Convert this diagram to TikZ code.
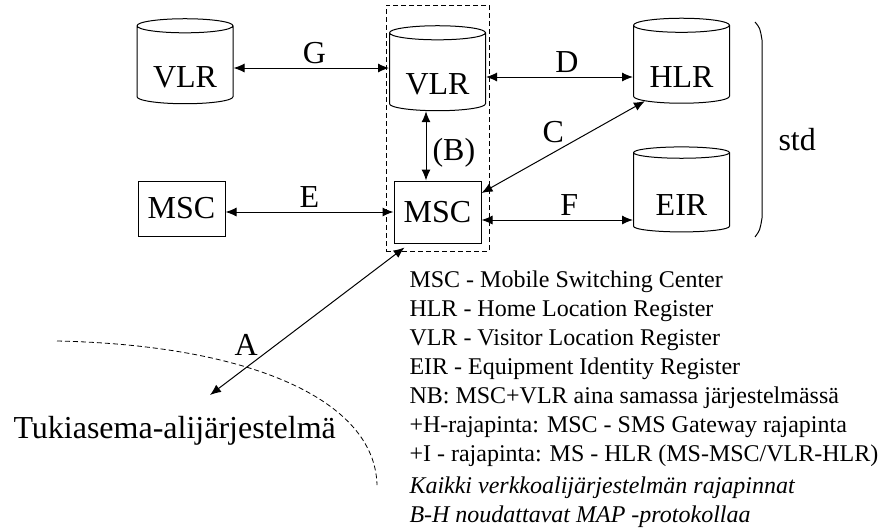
\documentclass[tikz,border=0pt]{standalone}
\usepackage{fontspec}
\setmainfont{Liberation Serif}
\usepackage{tikz}
\usetikzlibrary{shapes}
\usetikzlibrary{positioning}
\usetikzlibrary{calc}
\usetikzlibrary{arrows.meta}
\tikzstyle{db}=[cylinder,shape border rotate=90,draw,aspect=0.22,minimum width=96pt,minimum height=85pt,inner sep=0pt]
\tikzstyle{switch}=[rectangle,draw,minimum width=87pt,minimum height=62pt,inner sep=0pt]
\tikzstyle{note}=[align=left,inner sep=0pt,font=\fontsize{24}{29}\selectfont]
\newcommand{\DbName}[1]{\raisebox{-12.5pt}[\height][\depth]{#1}}

\begin{document}
\begin{tikzpicture}
	[x=1pt,y=-1pt,font=\fontsize{32}{38}\selectfont,line width=1pt]
	\tikzstyle{link}=[{Latex[length=11pt,width=9pt]}-{Latex[length=11pt,width=9pt]}];
	\tikzstyle{label}=[inner sep=2pt];
	\tikzstyle{border}=[dash pattern=on 5pt off 3pt,line width=0.8pt];
	\useasboundingbox (0,0) rectangle (880,531);
	\node (vlr1) [db] at (185,65) {\DbName{VLR}};
	\node (vlr2) [db] at (437.5,72) {\DbName{VLR}};
	\node (hlr) [db] at (681.5,64.5) {\DbName{HLR}};
	\node (eir) [db] at (681.5,192.5) {\DbName{EIR}};
	\node (msc1) [switch,minimum height=55pt] at (181.5,208.5) {MSC};
	\node (msc2) [switch] at (437.5,212) {MSC};
	\node (sys) [draw,border,minimum width=103pt,minimum height=246pt] at (437.5,128) {};
	\coordinate (bss) at (210,395);
	\path
		(vlr1.east |- 0,68) edge[link] node[label,above=2pt,pos=0.52] {G} (vlr2.west |- 0,68)
		(vlr2.east |- 0,77) edge[link] node[label,above=2pt,pos=0.55] {D} (hlr.west |- 0,77)
		(msc2.east |- 0,193) edge[link] node[label,above left=0pt,pos=0.52] {C} (hlr.-135)
		(msc1.east |- 0,212) edge[link] node[label,above=2pt] {E} (msc2.west |- 0,212)
		(msc2.east |- 0,220) edge[link] node[label,above=2pt,pos=0.58] {F} (eir.west |- 0,220)
		([xshift=-11.5pt]vlr2.south) edge[link] node[label,right=4pt,pos=0.6] {(B)} ([xshift=-11.5pt]msc2.north)
		([shift={(11pt,-4pt)}]msc2.south west) edge[link] node[label,left=16pt,pos=0.66] {A} (bss);
	\draw[border] (57,341) .. controls (250,345) and (375,400) .. (377,485);
	\draw[line width=1pt] (755,22) .. controls (760,28) .. (762,40) -- (762,218) .. controls (760,230) .. (755,237);
	\node (std) [anchor=base west,inner sep=0pt] at (778,150) {std};
	\node (bsslabel) [anchor=base west,inner sep=0pt] at (13,438) {Tukiasema-alijärjestelmä};
	\node (legend) [note,anchor=north west] at (409,270) {MSC - Mobile Switching Center\\
		HLR - Home Location Register\\
		VLR - Visitor Location Register\\
		EIR - Equipment Identity Register\\
		NB: MSC+VLR aina samassa järjestelmässä\\
		+H-rajapinta: MSC - SMS Gateway rajapinta\\
		+I - rajapinta: MS - HLR (MS-MSC/VLR-HLR)\\[3pt]
		\textit{Kaikki verkkoalijärjestelmän rajapinnat}\\
		\textit{B-H noudattavat MAP -protokollaa}};
\end{tikzpicture}
\end{document}
